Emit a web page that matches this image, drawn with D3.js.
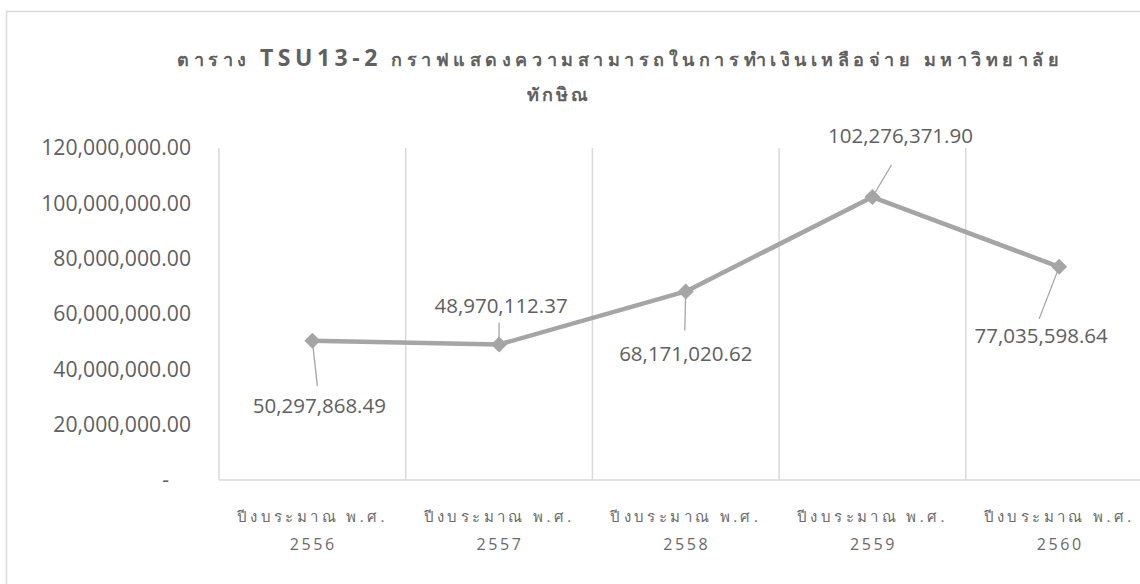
<!DOCTYPE html>
<html>
<head>
<meta charset="utf-8">
<script src="https://cdn.jsdelivr.net/npm/d3@7"></script>
<style>
  html, body { margin: 0; padding: 0; background: #fff; }
  svg { display: block; }
  text { font-family: "Open Sans", "Noto Sans", sans-serif; fill: #606060; }
</style>
</head>
<body>
<svg id="chart" width="1140" height="584"></svg>
<script>
// ---- data ----
const categoryPrefix = "ปีงบระมาณ พ.ศ.";
const categories = ["2556", "2557", "2558", "2559", "2560"];
const values = [50297868.49, 48970112.37, 68171020.62, 102276371.90, 77035598.64];
const yTicks = [0, 20000000, 40000000, 60000000, 80000000, 100000000, 120000000];
const titleLine1a = "ตาราง ";
const titleLine1b = "TSU13-2";
const titleLine1c = " กราฟแสดงความสามารถในการทำเงินเหลือจ่าย มหาวิทยาลัย";
const titleLine2 = "ทักษิณ";

// ---- layout (not data) ----
const labelOffsets = [[7, 64], [2, -40], [0, 62], [28, -62], [-18, 68]];
const leaderEnds   = [[5, 45], [0, -22], [-1, 39], [19, -32], [-20, 52]];

const svg = d3.select("#chart");

// outer chart border (extends beyond the cropped view)
svg.append("rect")
  .attr("x", 6.5).attr("y", 11.5).attr("width", 1300).attr("height", 800)
  .attr("fill", "none").attr("stroke", "#d9d9d9").attr("stroke-width", 1.5);

const x = d3.scaleBand().domain(categories).range([219, 1152.5]).padding(0);
const y = d3.scaleLinear().domain([0, 120000000]).range([480, 148]);

// vertical gridlines at category boundaries
const bounds = categories.map(c => x(c)).concat([x.range()[1]]);
svg.append("g").selectAll("line").data(bounds).join("line")
  .attr("x1", d => d).attr("x2", d => d)
  .attr("y1", y(120000000)).attr("y2", y(0))
  .attr("stroke", "#d9d9d9").attr("stroke-width", 1.5);

// horizontal axis line
svg.append("line")
  .attr("x1", x.range()[0]).attr("x2", x.range()[1])
  .attr("y1", y(0)).attr("y2", y(0))
  .attr("stroke", "#d9d9d9").attr("stroke-width", 1.5);

// y axis
const fmt = d3.format(",.2f");
const yAxis = d3.axisLeft(y).tickValues(yTicks).tickSize(0).tickPadding(28)
  .tickFormat(d => d === 0 ? "-    " : fmt(d));
const gy = svg.append("g").attr("transform", `translate(${x.range()[0]},0)`).call(yAxis);
gy.select(".domain").remove();
gy.selectAll("text")
  .style("font-family", '"Open Sans", "Noto Sans", sans-serif')
  .style("font-size", "21.2px").style("fill", "#606060")
  .style("white-space", "pre");

// x axis labels (two lines)
const xl = svg.append("g");
categories.forEach(c => {
  const cx = x(c) + x.bandwidth() / 2;
  xl.append("text").attr("x", cx).attr("y", 522)
    .attr("text-anchor", "middle")
    .style("font-size", "15px").style("letter-spacing", "3.4px").style("fill", "#6a6a6a")
    .text(categoryPrefix);
  xl.append("text").attr("x", cx + 1).attr("y", 550)
    .attr("text-anchor", "middle")
    .style("font-size", "16px").style("letter-spacing", "2.6px").style("fill", "#6a6a6a")
    .text(c);
});

// line
const pts = categories.map((c, i) => [x(c) + x.bandwidth() / 2, y(values[i])]);
svg.append("path")
  .attr("d", d3.line()(pts))
  .attr("fill", "none").attr("stroke", "#a5a5a5").attr("stroke-width", 4.5)
  .attr("stroke-linejoin", "round");

// markers
svg.append("g").selectAll("path").data(pts).join("path")
  .attr("d", d3.symbol(d3.symbolSquare, 128)())
  .attr("transform", d => `translate(${d[0]},${d[1]}) rotate(45)`)
  .attr("fill", "#a5a5a5");

// leader lines
svg.append("g").selectAll("line").data(pts).join("line")
  .attr("x1", d => d[0]).attr("y1", d => d[1])
  .attr("x2", (d, i) => d[0] + leaderEnds[i][0])
  .attr("y2", (d, i) => d[1] + leaderEnds[i][1])
  .attr("stroke", "#a5a5a5").attr("stroke-width", 1.3);

// data labels
svg.append("g").selectAll("text").data(pts).join("text")
  .attr("x", (d, i) => d[0] + labelOffsets[i][0])
  .attr("y", (d, i) => d[1] + labelOffsets[i][1])
  .attr("text-anchor", "middle").attr("dominant-baseline", "central")
  .style("font-size", "20.5px").style("fill", "#606060")
  .text((d, i) => fmt(values[i]));

// title
const t1 = svg.append("text").attr("x", 177).attr("y", 66)
  .attr("textLength", 882).attr("lengthAdjust", "spacing")
  .style("font-weight", "bold");
t1.append("tspan").style("font-size", "18px").text(titleLine1a);
t1.append("tspan").style("font-size", "23px").text(titleLine1b);
t1.append("tspan").style("font-size", "18px").text(titleLine1c);

svg.append("text").attr("x", 559).attr("y", 101)
  .attr("text-anchor", "middle")
  .style("font-weight", "bold").style("font-size", "18px").style("letter-spacing", "3px")
  .text(titleLine2);
</script>
</body>
</html>
